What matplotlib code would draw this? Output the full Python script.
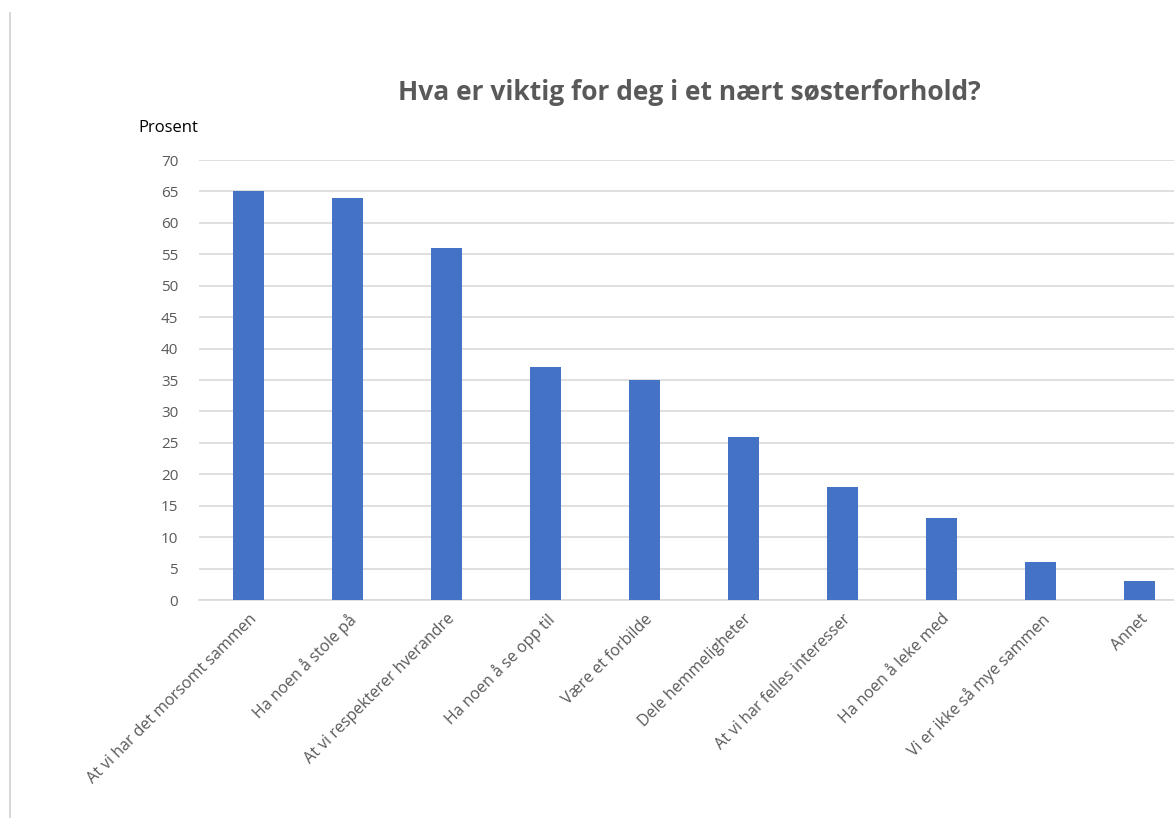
import matplotlib.pyplot as plt
from matplotlib.lines import Line2D

kategorier = ["At vi har det morsomt sammen", "Ha noen å stole på",
              "At vi respekterer hverandre", "Ha noen å se opp til",
              "Være et forbilde", "Dele hemmeligheter",
              "At vi har felles interesser", "Ha noen å leke med",
              "Vi er ikke så mye sammen", "Annet"]
prosent = [65, 64, 56, 37, 35, 26, 18, 13, 6, 3]
yticks = list(range(0, 75, 5))

plt.rcParams['font.family'] = ['Open Sans', 'DejaVu Sans']
grey = '#595959'

fig = plt.figure(figsize=(11.74, 8.18), dpi=100)
ax = fig.add_axes([199/1174, 218/818, 990/1174, 440/818])

x = range(len(kategorier))
ax.bar(x, prosent, width=0.31, color='#4472C4', zorder=3)
ax.set_xlim(-0.5, len(kategorier) - 0.5)
ax.set_ylim(0, 70)
ax.set_yticks(yticks)
ax.set_xticks(list(x))
ax.set_xticklabels(kategorier, rotation=45, ha='right', rotation_mode='anchor',
                   fontsize=11.5, color=grey)
ax.tick_params(axis='x', length=0, pad=8)
ax.tick_params(axis='y', length=0, pad=15, labelsize=11, labelcolor=grey)
ax.grid(axis='y', color='#d9d9d9', linewidth=1.2, zorder=0)
for s in ['top', 'right', 'left']:
    ax.spines[s].set_visible(False)
ax.spines['bottom'].set_color('#d9d9d9')
ax.spines['bottom'].set_linewidth(1.2)

fig.text(689/1174, 1 - 92/818, "Hva er viktig for deg i et nært søsterforhold?",
         ha='center', va='center', fontsize=19, fontweight='bold', color=grey)
fig.text(138/1174, 1 - 128/818, "Prosent", ha='left', va='center', fontsize=12,
         color='black')

# kant fra skjermbildet
fig.add_artist(Line2D([10/1174, 10/1174], [0, 1 - 13/818], color='#d0d0d0',
                      linewidth=1.2, transform=fig.transFigure))

fig.savefig('out.png', dpi=100)
